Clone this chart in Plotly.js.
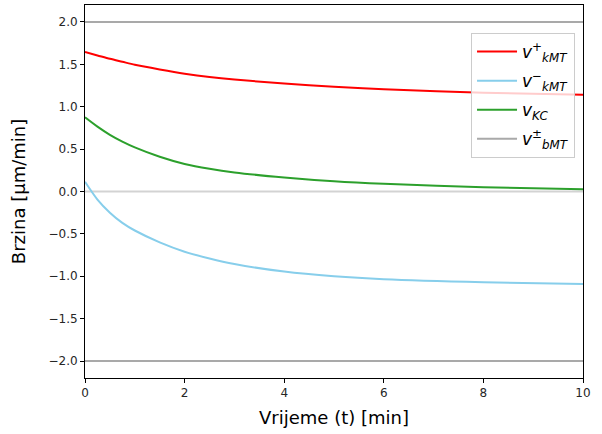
<!DOCTYPE html>
<html>
<head>
<meta charset="utf-8">
<script src="https://cdn.plot.ly/plotly-3.0.1.min.js"></script>
<style>html,body{margin:0;padding:0;background:#fff;}#chart{width:602px;height:434px;}</style>
</head>
<body>
<div id="chart"></div>
<script>
// Time points (min)
const time = [0, 0.25, 0.5, 0.75, 1, 1.5, 2, 2.5, 3, 4, 5, 6, 8, 10];
// Series values (µm/min)
const vkMTplus  = [1.645, 1.605, 1.565, 1.53, 1.495, 1.44, 1.39, 1.35, 1.32, 1.275, 1.235, 1.205, 1.165, 1.14];
const vkMTminus = [0.115, -0.095, -0.25, -0.37, -0.46, -0.60, -0.71, -0.79, -0.855, -0.945, -1.0, -1.035, -1.07, -1.09];
const vKC       = [0.875, 0.765, 0.668, 0.588, 0.52, 0.41, 0.325, 0.268, 0.225, 0.165, 0.12, 0.09, 0.05, 0.027];
// Constant reference levels
const tSpan = [0, 10];
const vbMTplus  = [2, 2];
const vbMTminus = [-2, -2];
const zeroLine  = [0, 0];
const yTicks = [-2, -1.5, -1, -0.5, 0, 0.5, 1, 1.5, 2];
const xTicks = [0, 2, 4, 6, 8, 10];

const traces = [
  {x: tSpan, y: zeroLine, mode: 'lines', line: {color: '#d3d3d3', width: 2}, showlegend: false, hoverinfo: 'skip'},
  {x: tSpan, y: vbMTplus, mode: 'lines', line: {color: '#a9a9a9', width: 2}, name: '<i>v</i><sup>±</sup><sub><i>bMT</i></sub>', legendrank: 4, legendgroup: 'd'},
  {x: tSpan, y: vbMTminus, mode: 'lines', line: {color: '#a9a9a9', width: 2}, showlegend: false, legendgroup: 'd'},
  {x: time, y: vkMTplus, mode: 'lines', line: {color: '#ff0000', width: 2, shape: 'spline', smoothing: 0.8}, name: '<i>v</i><sup>+</sup><sub><i>kMT</i></sub>', legendrank: 1, legendgroup: 'a'},
  {x: time, y: vkMTminus, mode: 'lines', line: {color: '#87ceeb', width: 2, shape: 'spline', smoothing: 0.8}, name: '<i>v</i><sup>−</sup><sub><i>kMT</i></sub>', legendrank: 2, legendgroup: 'b'},
  {x: time, y: vKC, mode: 'lines', line: {color: '#2ca02c', width: 2, shape: 'spline', smoothing: 0.8}, name: '<i>v</i><sub><i>KC</i></sub>', legendrank: 3, legendgroup: 'c'}
];

const axisCommon = {
  showline: true, mirror: true, linecolor: '#000', linewidth: 1,
  ticks: 'outside', ticklen: 4, tickwidth: 1, tickcolor: '#000',
  showgrid: false, zeroline: false,
  tickfont: {family: 'DejaVu Sans', size: 12, color: '#262626'}
};

const layout = {
  width: 602, height: 434,
  margin: {l: 85, r: 19, t: 5, b: 56},
  paper_bgcolor: '#fff', plot_bgcolor: '#fff',
  font: {family: 'DejaVu Sans', color: '#000'},
  xaxis: Object.assign({}, axisCommon, {
    range: [0, 10], tickvals: xTicks,
    title: {text: 'Vrijeme (t) [min]', font: {family: 'DejaVu Sans', size: 18, color: '#000'}, standoff: 11}
  }),
  yaxis: Object.assign({}, axisCommon, {
    range: [-2.2, 2.2], tickvals: yTicks, tickformat: '.1f',
    title: {text: 'Brzina [μm/min]', font: {family: 'DejaVu Sans', size: 18, color: '#000'}, standoff: 18}
  }),
  legend: {
    x: 0.984, y: 0.925, xanchor: 'right', yanchor: 'top',
    bgcolor: 'rgba(255,255,255,0.8)', bordercolor: '#cccccc', borderwidth: 1,
    font: {family: 'DejaVu Sans', size: 17, color: '#000'},
    tracegroupgap: 4, itemwidth: 40
  },
  showlegend: true
};

Plotly.newPlot('chart', traces, layout, {displayModeBar: false, staticPlot: true});
</script>
</body>
</html>
